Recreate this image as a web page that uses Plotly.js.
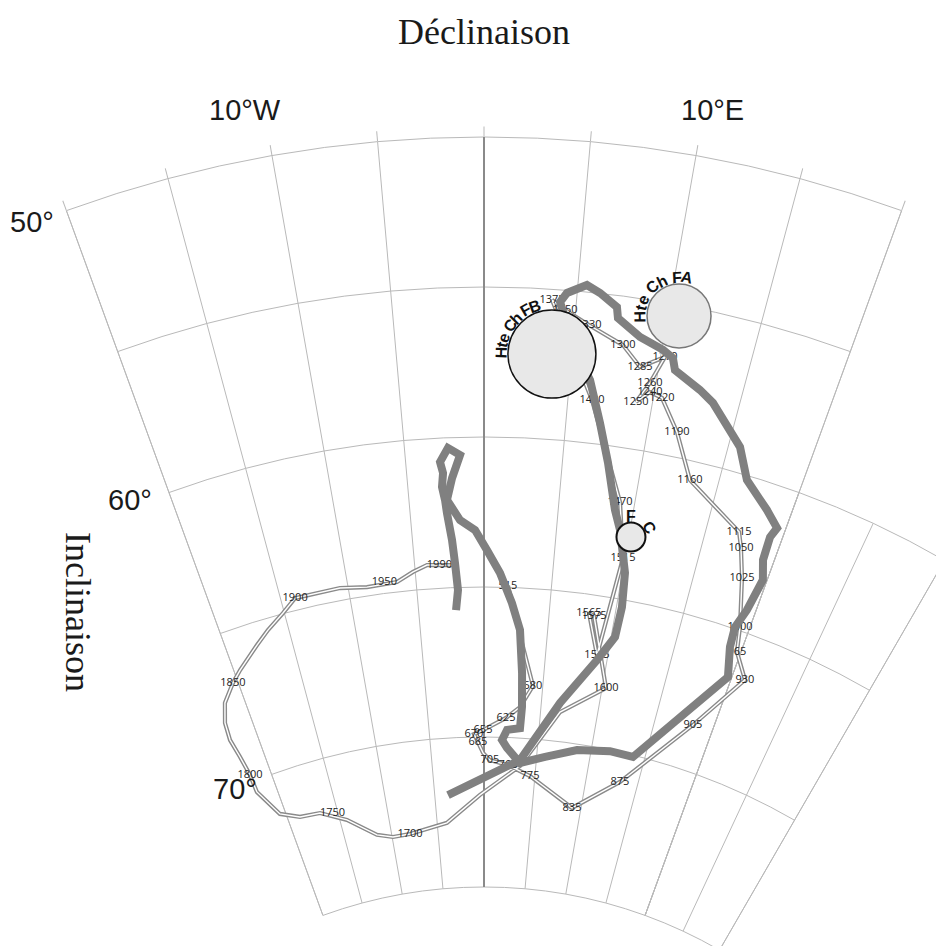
<!DOCTYPE html>
<html><head><meta charset="utf-8">
<script src="https://cdn.plot.ly/plotly-3.0.1.min.js"></script>
<style>
html,body{margin:0;padding:0;overflow:hidden;background:#fff}
#wrap{width:936px;height:946px;overflow:hidden;position:relative;background:#fff}
#plot{position:absolute;left:-40px;top:0}
</style>
</head><body><div id="wrap"><div id="plot"></div></div>
<script>
// ---------- DATA ----------
// Secular variation curve with dates (thin double line)
const thinAge  = ['515','','580','','625','655','670','685','','705','765','775','835','875','905','930','965','1000','1025','1050','1115','1160','1190','1220','1240','1250','1260','1270','1285','1300','1330','1350','1375','1430','1470','1515','1545','1565','1575','1600','','','','','1700','','','','1750','','','','1800','','','','','1850','','','','','1900','','','1950','','','1990'];
const thinDecl = [1.78,2.85,4.17,3.17,1.97,-0.09,-0.92,-0.56,-0.09,0.57,2.32,4.52,9.09,13.28,18.27,21.05,19.71,19.30,18.30,17.60,17.16,13.20,11.77,10.50,9.75,9.03,9.66,10.25,8.95,7.81,5.80,4.42,3.68,6.43,9.03,9.86,9.13,8.02,8.43,10.32,6.71,3.48,-0.41,-3.96,-8.04,-9.91,-11.56,-14.29,-16.75,-18.78,-20.56,-21.86,-21.87,-22.09,-22.34,-22.19,-21.58,-20.40,-19.52,-17.66,-16.53,-15.10,-13.96,-10.59,-8.63,-6.40,-5.16,-4.11,-2.31];
const thinIncl = [64.95,66.57,68.24,68.97,69.35,69.77,69.90,70.17,70.53,70.77,70.92,71.24,72.13,70.97,68.48,66.48,65.70,64.88,63.31,62.37,61.88,60.64,59.17,58.15,58.03,58.43,57.73,56.79,57.26,56.62,56.09,55.66,55.36,58.56,61.81,63.63,66.97,65.62,65.69,68.00,69.02,70.93,71.93,72.82,73.06,73.07,72.90,72.19,71.73,71.65,71.33,70.37,69.76,69.08,68.43,67.84,67.22,66.69,66.37,65.76,65.39,64.98,64.60,64.59,64.71,64.67,64.39,64.20,64.25];

// Second curve (thick grey line)
const thickDecl = [-2.14,-1.94,-2.09,-2.24,-2.51,-2.60,-2.76,-2.65,-2.81,-2.27,-1.52,-2.08,-2.47,-1.64,-0.62,0.21,1.17,2.12,2.83,3.18,3.34,3.27,2.10,1.67,2.16,3.46,5.80,8.70,11.73,13.92,19.71,19.08,18.95,19.37,19.72,19.27,19.21,19.45,18.45,16.67,15.70,13.48,12.58,10.94,10.70,10.07,8.69,7.34,7.21,6.22,5.48,4.46,4.12,5.16,6.19,7.07,7.89,8.78,9.33,10.18,10.41,10.30,9.20,6.62,3.45,-3.66];
const thickIncl = [65.75,65.09,64.18,63.41,62.51,62.07,61.63,61.17,60.80,60.34,60.59,61.35,62.07,62.76,63.10,63.77,64.53,65.52,66.40,67.83,68.96,69.67,69.75,70.09,70.35,70.83,70.56,70.20,70.04,70.06,66.59,65.62,64.94,64.27,63.15,62.52,61.72,61.36,60.90,60.15,59.16,57.96,57.64,57.16,56.78,56.57,56.27,55.75,55.39,54.99,54.77,55.09,55.41,56.96,57.91,59.29,60.58,62.10,62.73,64.11,65.25,66.27,67.13,68.72,70.73,71.90];

// Sites (mean directions with confidence circles)
const siteName = ['Hte Ch FB','Hte Ch FA','F C'];
const siteDecl = [3.87, 10.60, 10.15];
const siteIncl = [57.16, 55.36, 62.90];

// Grid and axis labels
const declGridMain = [-20,-15,-10,-5,0,5,10,15,20];
const declGridEast = [20,25,30];
const inclGridMain = [50,55,60,65,70,75];
const inclGridEast = [60,65,70,75];
const declLabelText = ['10°W','10°E'];
const inclLabelText = ['50°','60°','70°'];

// ---------- GEOMETRY / STYLE ----------
const OFF = 40;                    // plot shifted left by this many px (CSS)
const CX = 484 + OFF, CY = 1358;   // pole position in layout px
const PW = 1140, PH = 1363;        // layout size
const PX = 30, R0 = 21;            // px per degree of inclination, offset
const ax = px => (px + OFF) / PW;
const ay = py => (PH - py) / PH;
const toR = a => a.map(v => 90 - v);     // inclination -> colatitude
const GRID = '#b9b9b9';

function domainFor(bbox, Rp){
  return {x:[(CX + bbox[0]*Rp)/PW, (CX + bbox[2]*Rp)/PW],
          y:[(PH - (CY - bbox[1]*Rp))/PH, (PH - (CY - bbox[3]*Rp))/PH]};
}
const s20 = Math.cos(70*Math.PI/180);
const RA = R0 + PX*40, RB = R0 + PX*30;   // outer radii in px
const HOLE = R0 + PX*15;

const labelPos = thinAge.map(a => a === '1750' ? 'middle right' : (a === '1950' || a === '1990') ? 'middle left' : 'middle center');

// invisible anchor traces so that the grid subplots are drawn
const anchor = sp => ({type:'scatterpolar', subplot:sp, mode:'markers', r: toR(siteIncl), theta: siteDecl,
  marker:{opacity:0, size:1}, hoverinfo:'skip', showlegend:false});

const traces = [
  anchor('polar'), anchor('polar2'),
  {type:'scatterpolar', subplot:'polar3', mode:'lines', r: toR(thinIncl), theta: thinDecl,
   line:{color:'#8a8a8a', width:4.2}, cliponaxis:false, hoverinfo:'skip', showlegend:false},
  {type:'scatterpolar', subplot:'polar3', mode:'lines', r: toR(thinIncl), theta: thinDecl,
   line:{color:'#ffffff', width:1.4}, cliponaxis:false, hoverinfo:'skip', showlegend:false},
  {type:'scatterpolar', subplot:'polar3', mode:'text', r: toR(thinIncl), theta: thinDecl, text: thinAge,
   textposition: labelPos, textfont:{family:'Open Sans, Liberation Sans, sans-serif', size:11, color:'#222'},
   cliponaxis:false, hoverinfo:'skip', showlegend:false},
  {type:'scatterpolar', subplot:'polar3', mode:'lines', r: toR(thickIncl), theta: thickDecl,
   line:{color:'#808080', width:8}, cliponaxis:false, hoverinfo:'skip', showlegend:false},
  {type:'scatterpolar', subplot:'polar3', mode:'markers', r: toR(siteIncl), theta: siteDecl, text: siteName,
   marker:{size:[88,64,29], color:'#e8e8e8', opacity:1,
           line:{color:['#111','#777','#111'], width:[1.5,1.5,2]}},
   cliponaxis:false, hoverinfo:'text', showlegend:false}
];

const serif = 'Liberation Serif, Times New Roman, serif';
const sans = 'Liberation Sans, Arial, sans-serif';
const ann = [];
function txt(t, px, py, size, family, angle){
  ann.push({text:t, x:ax(px), y:ay(py), xref:'paper', yref:'paper', showarrow:false,
            xanchor:'center', yanchor:'middle', textangle: angle||0,
            font:{family:family, size:size, color:'#1a1a1a'}});
}
txt('Déclinaison', 484, 32, 36, serif);
txt('Inclinaison', 78, 612, 36, serif, 90);
txt(declLabelText[0], 245, 110, 29, sans);
txt(declLabelText[1], 712, 110, 29, sans);
txt(inclLabelText[0], 32, 222, 29, sans);
txt(inclLabelText[1], 130, 500, 29, sans);
txt(inclLabelText[2], 235, 789, 29, sans);

// labels curved around the circles
const cw = {H:.72,t:.4,e:.57,' ':.34,C:.68,h:.6,F:.58,B:.68,A:.7};
function arcText(str, cx, cy, rad, a0, a1, size){
  const chars = [...str];
  const ws = chars.map(c => cw[c] || .6);
  const total = ws.reduce((s,v)=>s+v,0) - ws[0]/2 - ws[ws.length-1]/2;
  let acc = 0;
  chars.forEach((ch, i) => {
    if (i > 0) acc += (ws[i-1] + ws[i]) / 2;
    if (ch === ' ') return;
    const a = a0 + (a1 - a0) * acc / total;
    const r = a * Math.PI / 180;
    const px = cx + rad * Math.cos(r), py = cy - rad * Math.sin(r);
    ann.push({text:'<b>'+ch+'</b>', x:ax(px), y:ay(py), xref:'paper', yref:'paper', showarrow:false,
              xanchor:'center', yanchor:'middle', textangle: 90 - a,
              font:{family:sans, size:size, color:'#111'}});
  });
}
arcText(siteName[0], 552, 354, 51, 178, 110, 16);
arcText(siteName[1], 679, 316, 39, 181, 78, 16);
arcText(siteName[2], 631, 537, 21, 90, 28, 16);

const hidden = {showgrid:false, showline:false, showticklabels:false, ticks:''};

const layout = {
  width: PW, height: PH,
  margin:{l:0, r:0, t:0, b:0, pad:0},
  paper_bgcolor:'#fff', plot_bgcolor:'#fff',
  showlegend:false,
  // main grid: 20°W .. 20°E, inclination 50° .. 75°
  polar:{
    domain: domainFor([-s20, 0, s20, 1], RA),
    sector:[70,110], hole: HOLE/RA, bgcolor:'rgba(0,0,0,0)',
    radialaxis:{range:[15,40], tickmode:'array', tickvals: toR(inclGridMain), showticklabels:false, ticks:'',
      showline:true, linecolor:'#8a8a8a', linewidth:2, angle:90,
      showgrid:true, gridcolor:GRID, gridwidth:1, layer:'below traces'},
    angularaxis:{direction:'clockwise', rotation:90, tickmode:'array', tickvals: declGridMain,
      showticklabels:false, ticks:'outside', ticklen:10, tickcolor:GRID, tickwidth:1,
      showline:true, linecolor:GRID, linewidth:1,
      showgrid:true, gridcolor:GRID, gridwidth:1, layer:'below traces'}
  },
  // eastern extension: 20°E .. 30°E, inclination 60° .. 75°
  polar2:{
    domain: domainFor([0, 0, 0.5, Math.sin(70*Math.PI/180)], RB),
    sector:[60,70], hole: HOLE/RB, bgcolor:'rgba(0,0,0,0)',
    radialaxis:{range:[15,30], tickmode:'array', tickvals: toR(inclGridEast), showticklabels:false, ticks:'',
      showline:false, showgrid:true, gridcolor:GRID, gridwidth:1, layer:'below traces'},
    angularaxis:{direction:'clockwise', rotation:90, tickmode:'array', tickvals: declGridEast,
      showticklabels:false, ticks:'', showline:true, linecolor:GRID, linewidth:1,
      showgrid:true, gridcolor:GRID, gridwidth:1, layer:'below traces'}
  },
  // data frame (same pole & scale, wider sector so the curve may leave the grid)
  polar3:{
    domain: domainFor([-Math.cos(65*Math.PI/180), 0, 0.5, 1], RA),
    sector:[60,115], hole: HOLE/RA, bgcolor:'rgba(0,0,0,0)',
    radialaxis:Object.assign({range:[15,40]}, hidden),
    angularaxis:Object.assign({direction:'clockwise', rotation:90}, hidden)
  },
  annotations: ann
};

Plotly.newPlot('plot', traces, layout, {displayModeBar:false, staticPlot:true});
</script>
</body></html>
